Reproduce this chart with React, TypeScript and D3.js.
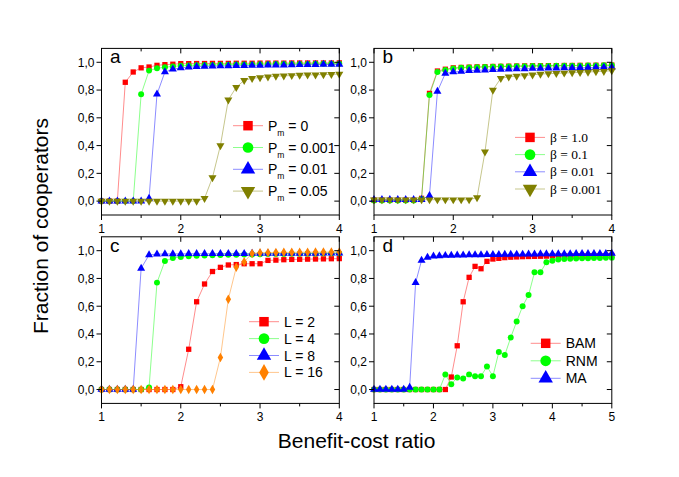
import React from 'react';
import * as d3 from 'd3';

// x grid: 1.0, 1.1, ... (step 0.1)
const X0 = 1;
const XSTEP = 0.1;

// panel a: mutation probability P_m
const pmLabels = ['0', '0.001', '0.01', '0.05'];
const pm0 = [0, 0, 0, 0.856, 0.93, 0.96, 0.966, 0.978, 0.983, 0.986, 0.99, 0.99, 0.991, 0.991, 0.992, 0.992, 0.992, 0.993, 0.993, 0.993, 0.994, 0.994, 0.994, 0.994, 0.995, 0.995, 0.995, 0.995, 0.995, 0.995, 0.996];
const pm001 = [0, 0, 0, 0, 0, 0.77, 0.94, 0.957, 0.964, 0.97, 0.975, 0.977, 0.979, 0.98, 0.981, 0.982, 0.983, 0.984, 0.985, 0.985, 0.986, 0.986, 0.987, 0.987, 0.988, 0.988, 0.988, 0.989, 0.989, 0.99, 0.99];
const pm01 = [0, 0, 0, 0, 0, 0, 0.02, 0.77, 0.93, 0.95, 0.96, 0.965, 0.968, 0.97, 0.972, 0.973, 0.974, 0.975, 0.976, 0.977, 0.978, 0.979, 0.98, 0.98, 0.981, 0.982, 0.982, 0.983, 0.984, 0.984, 0.985];
const pm05 = [0, 0, 0, 0, 0, 0, 0, 0, 0, 0, 0, 0, 0, 0.02, 0.17, 0.4, 0.73, 0.82, 0.87, 0.885, 0.89, 0.895, 0.9, 0.902, 0.905, 0.907, 0.909, 0.91, 0.912, 0.913, 0.915];

// panel b: selection strength beta
const betaLabels = ['1.0', '0.1', '0.01', '0.001'];
const beta10 = [0.007, 0.007, 0.007, 0.007, 0.007, 0.007, 0.02, 0.776, 0.937, 0.95, 0.96, 0.963, 0.965, 0.967, 0.968, 0.97, 0.971, 0.972, 0.973, 0.974, 0.975, 0.975, 0.976, 0.976, 0.977, 0.977, 0.978, 0.978, 0.979, 0.979, 0.98];
const beta01 = [0.005, 0.005, 0.005, 0.005, 0.005, 0.005, 0.015, 0.765, 0.93, 0.945, 0.955, 0.96, 0.962, 0.964, 0.966, 0.968, 0.969, 0.97, 0.971, 0.972, 0.973, 0.974, 0.974, 0.975, 0.975, 0.976, 0.976, 0.977, 0.977, 0.978, 0.978];
const beta001 = [0.01, 0.01, 0.01, 0.01, 0.01, 0.01, 0.01, 0.04, 0.79, 0.92, 0.93, 0.935, 0.94, 0.942, 0.944, 0.946, 0.948, 0.95, 0.952, 0.953, 0.955, 0.956, 0.957, 0.958, 0.959, 0.96, 0.961, 0.962, 0.963, 0.964, 0.965];
const beta0001 = [0.01, 0.01, 0.01, 0.01, 0.01, 0.01, 0.01, 0.01, 0.01, 0.01, 0.01, 0.01, 0.01, 0.025, 0.355, 0.8, 0.885, 0.895, 0.9, 0.905, 0.91, 0.915, 0.918, 0.92, 0.923, 0.925, 0.928, 0.93, 0.933, 0.935, 0.94];

// panel c: L
const lLabels = ['2', '4', '8', '16'];
const l2 = [0, 0, 0, 0, 0, 0, 0, 0, 0, 0, 0.02, 0.29, 0.632, 0.76, 0.85, 0.88, 0.897, 0.9, 0.906, 0.906, 0.906, 0.93, 0.932, 0.935, 0.937, 0.938, 0.939, 0.94, 0.941, 0.942, 0.943];
const l4 = [0, 0, 0, 0, 0, 0, 0.015, 0.77, 0.925, 0.947, 0.955, 0.96, 0.963, 0.965, 0.967, 0.969, 0.97, 0.971, 0.972, 0.973, 0.975, 0.976, 0.977, 0.977, 0.978, 0.978, 0.979, 0.979, 0.98, 0.98, 0.98];
const l8 = [0, 0, 0, 0, 0, 0.873, 0.969, 0.975, 0.976, 0.977, 0.977, 0.978, 0.978, 0.978, 0.978, 0.979, 0.979, 0.979, 0.979, 0.98, 0.98, 0.98, 0.98, 0.98, 0.981, 0.981, 0.981, 0.981, 0.982, 0.982, 0.982];
const l16 = [0, 0, 0, 0, 0, 0, 0, 0, 0, 0, 0, 0, 0, 0, 0, 0.23, 0.65, 0.88, 0.92, 0.98, 0.985, 0.986, 0.987, 0.988, 0.988, 0.989, 0.989, 0.99, 0.99, 0.99, 0.991];

// panel d: network models (x up to 5)
const netLabels = ['BAM', 'RNM', 'MA'];
const bam = [0, 0, 0, 0, 0, 0, 0, 0, 0, 0, 0, 0, 0, 0.09, 0.315, 0.632, 0.808, 0.887, 0.87, 0.923, 0.94, 0.945, 0.95, 0.953, 0.955, 0.957, 0.958, 0.959, 0.96, 0.961, 0.962, 0.962, 0.963, 0.963, 0.964, 0.964, 0.964, 0.965, 0.965, 0.965, 0.966];
const rnm = [0, 0, 0, 0, 0, 0, 0, 0, 0, 0, 0, 0, 0.108, 0.038, 0.087, 0.08, 0.109, 0.096, 0.096, 0.166, 0.096, 0.27, 0.248, 0.375, 0.49, 0.6, 0.68, 0.844, 0.844, 0.916, 0.928, 0.937, 0.94, 0.942, 0.944, 0.945, 0.946, 0.947, 0.948, 0.949, 0.95];
const ma = [0, 0, 0, 0, 0, 0, 0.015, 0.77, 0.93, 0.952, 0.96, 0.963, 0.965, 0.966, 0.967, 0.968, 0.969, 0.97, 0.97, 0.971, 0.972, 0.972, 0.973, 0.973, 0.974, 0.974, 0.975, 0.975, 0.976, 0.976, 0.976, 0.977, 0.977, 0.977, 0.978, 0.978, 0.978, 0.979, 0.979, 0.979, 0.98];

const xTicks14 = [1, 2, 3, 4];
const xTicks15 = [1, 2, 3, 4, 5];
const yTicks = [0, 0.2, 0.4, 0.6, 0.8, 1.0];

const RED = '#ff0000';
const GREEN = '#00ff00';
const BLUE = '#0000ff';
const OLIVE = '#808000';
const ORANGE = '#ff8000';

const FONT = '"Liberation Sans", Arial, sans-serif';
const SERIF = '"Liberation Serif", "Times New Roman", serif';

type Series = { key: string; values: number[]; color: string; shape: string };

const symbolFor = (shape: string, size: number) => {
  const t = shape === 'square' ? d3.symbolSquare
    : shape === 'circle' ? d3.symbolCircle
    : shape === 'diamond' ? d3.symbolDiamond
    : d3.symbolTriangle;
  return d3.symbol().type(t).size(size)() as string;
};

function Panel({ left, top, width, height, xMax, xTicks, series, letter, legend }: any) {
  const x = d3.scaleLinear().domain([1, xMax]).range([left, left + width]);
  const y = d3.scaleLinear().domain([-0.1, 1.1]).range([top + height, top]);
  const minor = d3.range(1.5, xMax, 1);
  const line = d3.line<number>().x((_, i) => x(X0 + i * XSTEP)).y(d => y(d));
  const bottom = top + height;
  const right = left + width;

  return (
    <g>
      {series.map((s: Series) => (
        <g key={s.key}>
          <path d={line(s.values) as string} fill="none" stroke={s.color} strokeOpacity={0.45} strokeWidth={1} />
          {s.values.map((v, i) => (
            <path key={i} d={symbolFor(s.shape, s.shape === 'diamond' ? 26 : 28)}
              transform={`translate(${x(X0 + i * XSTEP)},${y(v)})${s.shape === 'down' ? ' rotate(180)' : ''}`}
              fill={s.color} />
          ))}
        </g>
      ))}
      <rect x={left} y={top} width={width} height={height} fill="none" stroke="#000" strokeWidth={1} />
      {/* x ticks: outward at bottom, inward at top */}
      {xTicks.map((t: number) => (
        <g key={'xt' + t}>
          <line x1={x(t)} x2={x(t)} y1={bottom} y2={bottom + 5} stroke="#000" />
          <line x1={x(t)} x2={x(t)} y1={top} y2={top + 5} stroke="#000" />
          <text x={x(t)} y={bottom + 18} textAnchor="middle" fontSize={12} fontFamily={FONT}>{t}</text>
        </g>
      ))}
      {minor.map((t: number) => (
        <g key={'xm' + t}>
          <line x1={x(t)} x2={x(t)} y1={bottom} y2={bottom + 3} stroke="#000" />
          <line x1={x(t)} x2={x(t)} y1={top} y2={top + 3} stroke="#000" />
        </g>
      ))}
      {yTicks.map((t: number) => (
        <g key={'yt' + t}>
          <line x1={left - 5} x2={left} y1={y(t)} y2={y(t)} stroke="#000" />
          <line x1={right - 5} x2={right} y1={y(t)} y2={y(t)} stroke="#000" />
          <text x={left - 7} y={y(t)} dy="0.36em" textAnchor="end" fontSize={12} fontFamily={FONT}>
            {d3.format('.1f')(t).replace('.', ',')}
          </text>
        </g>
      ))}
      <text x={left + 8.5} y={top + 15} fontSize={19} fontFamily={FONT}>{letter}</text>
      {series.map((s: Series, i: number) => {
        const ly = top + legend.y + i * legend.dy;
        const lx = left + legend.x;
        return (
          <g key={'lg' + s.key}>
            <line x1={lx} x2={lx + 30} y1={ly} y2={ly} stroke={s.color} strokeOpacity={0.45} />
            <path d={symbolFor(s.shape, s.shape === 'diamond' ? 80 : 90)}
              transform={`translate(${lx + 15},${ly})${s.shape === 'down' ? ' rotate(180)' : ''}`} fill={s.color} />
            {legend.label(s.key, lx + 35, ly)}
          </g>
        );
      })}
    </g>
  );
}

export default function App() {
  const pW = 237.8, pH = 166.6;
  const seriesA: Series[] = [pm0, pm001, pm01, pm05].map((v, i) => ({ key: pmLabels[i], values: v, color: [RED, GREEN, BLUE, OLIVE][i], shape: ['square', 'circle', 'up', 'down'][i] }));
  const seriesB: Series[] = [beta10, beta01, beta001, beta0001].map((v, i) => ({ key: betaLabels[i], values: v, color: [RED, GREEN, BLUE, OLIVE][i], shape: ['square', 'circle', 'up', 'down'][i] }));
  const seriesC: Series[] = [l2, l4, l8, l16].map((v, i) => ({ key: lLabels[i], values: v, color: [RED, GREEN, BLUE, ORANGE][i], shape: ['square', 'circle', 'up', 'diamond'][i] }));
  const seriesD: Series[] = [bam, rnm, ma].map((v, i) => ({ key: netLabels[i], values: v, color: [RED, GREEN, BLUE][i], shape: ['square', 'circle', 'up'][i] }));

  const labelA = (k: string, x: number, y: number) => (
    <text x={x} y={y} dy="0.36em" fontSize={14} fontFamily={FONT}>
      P<tspan fontSize={8.5} dy={5}>m</tspan><tspan dy={-5}> = {k}</tspan>
    </text>
  );
  const labelB = (k: string, x: number, y: number) => (
    <text x={x} y={y} dy="0.34em" fontSize={13.5} fontFamily={SERIF}>β = {k}</text>
  );
  const labelC = (k: string, x: number, y: number) => (
    <text x={x} y={y} dy="0.36em" fontSize={14} fontFamily={FONT}>L = {k}</text>
  );
  const labelD = (k: string, x: number, y: number) => (
    <text x={x} y={y} dy="0.36em" fontSize={14} fontFamily={FONT}>{k}</text>
  );

  return (
    <svg width={679} height={477} style={{ position: 'absolute', left: 0, top: 0, background: '#fff' }}>
      <Panel left={101.5} top={48.4} width={pW} height={pH} xMax={4} xTicks={xTicks14} series={seriesA} letter="a"
        legend={{ x: 131.5, y: 77.3, dy: 21.8, label: labelA }} />
      <Panel left={374} top={48.4} width={pW} height={pH} xMax={4} xTicks={xTicks14} series={seriesB} letter="b"
        legend={{ x: 141, y: 89, dy: 17.2, label: labelB }} />
      <Panel left={101.5} top={236.8} width={pW} height={pH} xMax={4} xTicks={xTicks14} series={seriesC} letter="c"
        legend={{ x: 147.5, y: 84.9, dy: 16.9, label: labelC }} />
      <Panel left={374} top={236.8} width={pW} height={pH} xMax={5} xTicks={xTicks15} series={seriesD} letter="d"
        legend={{ x: 156.7, y: 106.5, dy: 17.5, label: labelD }} />
      <text x={356.6} y={448} textAnchor="middle" fontSize={21} fontFamily={FONT}>Benefit-cost ratio</text>
      <text transform="translate(48,226) rotate(-90)" textAnchor="middle" fontSize={21} fontFamily={FONT}>Fraction of cooperators</text>
    </svg>
  );
}
